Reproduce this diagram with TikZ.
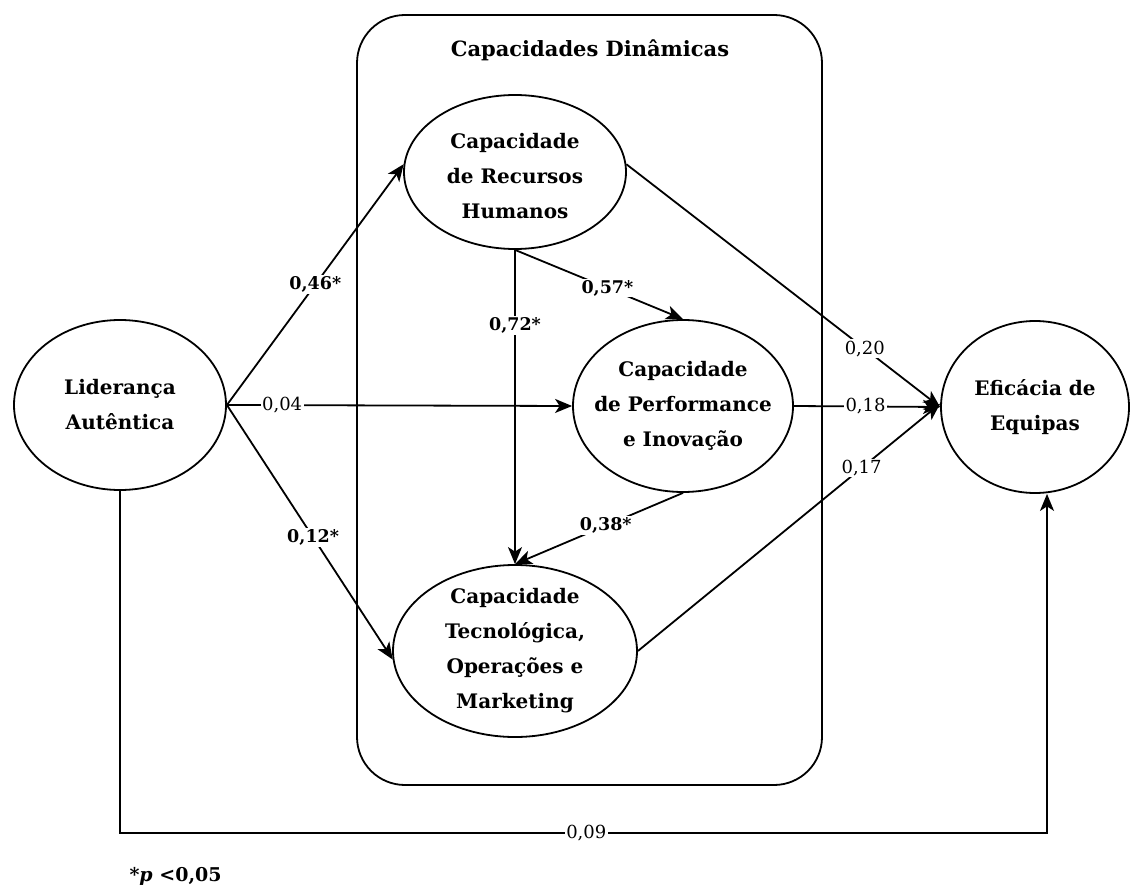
\documentclass[tikz,border=0pt]{standalone}
\usepackage{fontspec}
\setmainfont{DejaVu Serif}
\usetikzlibrary{shapes.geometric,arrows.meta}
\tikzset{
  construct/.style={ellipse, draw, line width=1.8pt, inner sep=0pt},
  ctext/.style={align=center, inner sep=0pt, font=\fontsize{20}{35}\selectfont\bfseries},
  arr/.style={line width=1.8pt, -{Stealth[length=17pt,width=14pt,inset=4.5pt]}},
  coef/.style={fill=white, inner sep=1.5pt, font=\fontsize{18}{20}\selectfont},
  coefs/.style={coef, font=\fontsize{17.5}{20}\selectfont\bfseries},
}
\begin{document}
\begin{tikzpicture}[x=1pt,y=-1pt]
\useasboundingbox (0,0) rectangle (1135,885);
% container
\node[draw, line width=1.8pt, rounded corners=48pt, minimum width=465pt, minimum height=770pt] (box) at (589.5,400) {};
\node[font=\fontsize{21}{24}\selectfont\bfseries] (title) at (590,50) {Capacidades Dinâmicas};
% constructs
\node[construct, minimum width=212pt, minimum height=170pt] (la) at (120,405) {};
\node[ctext] (lat) at (la.center) {Liderança\\Autêntica};
\node[construct, minimum width=222pt, minimum height=154pt] (crh) at (515,172) {};
\node[ctext] (crht) at ([yshift=-4pt]crh.center) {Capacidade\\de Recursos\\Humanos};
\node[construct, minimum width=220pt, minimum height=172pt] (cpi) at (683,406) {};
\node[ctext] (cpit) at (cpi.center) {Capacidade\\de Performance\\e Inovação};
\node[construct, minimum width=244pt, minimum height=172pt] (ctom) at (515,651) {};
\node[ctext] (ctomt) at (ctom.center) {Capacidade\\Tecnológica,\\Operações e\\Marketing};
\node[construct, minimum width=188pt, minimum height=172pt] (ee) at (1035,407) {};
\node[ctext] (eet) at (ee.center) {Eficácia de\\Equipas};
% paths
\draw[arr] (la.east) -- node[coefs, pos=0.5] {0,46*} (crh.176);
\draw[arr] (la.east) -- node[coef, pos=0.16] {0,04} (cpi.west);
\draw[arr] (la.east) -- node[coefs, pos=0.52] {0,12*} (ctom.184);
\draw[arr] (crh.south) -- node[coefs, pos=0.24] {0,72*} (ctom.north);
\draw[arr] (crh.south) -- node[coefs, pos=0.55] {0,57*} (cpi.north);
\draw[arr] (cpi.south) -- node[coefs, pos=0.46] {0,38*} (ctom.north);
\draw[arr] (crh.4) -- node[coef, pos=0.76] {0,20} (ee.west);
\draw[arr] (cpi.east) -- node[coef, pos=0.49] {0,18} (ee.west);
\draw[arr] (ctom.east) -- node[coef, pos=0.74] {0,17} (ee.178);
\coordinate (c1) at (120,833);
\coordinate (c2) at (1047,833);
\draw[arr] (la.south) -- (c1) -- node[coef, pos=0.503] {0,09} (c2) -- (c2 |- ee.south);
% note
\node[anchor=west, font=\fontsize{19}{20}\selectfont\bfseries] (note) at (126,876) {*\textit{p} <0,05};
\end{tikzpicture}
\end{document}
